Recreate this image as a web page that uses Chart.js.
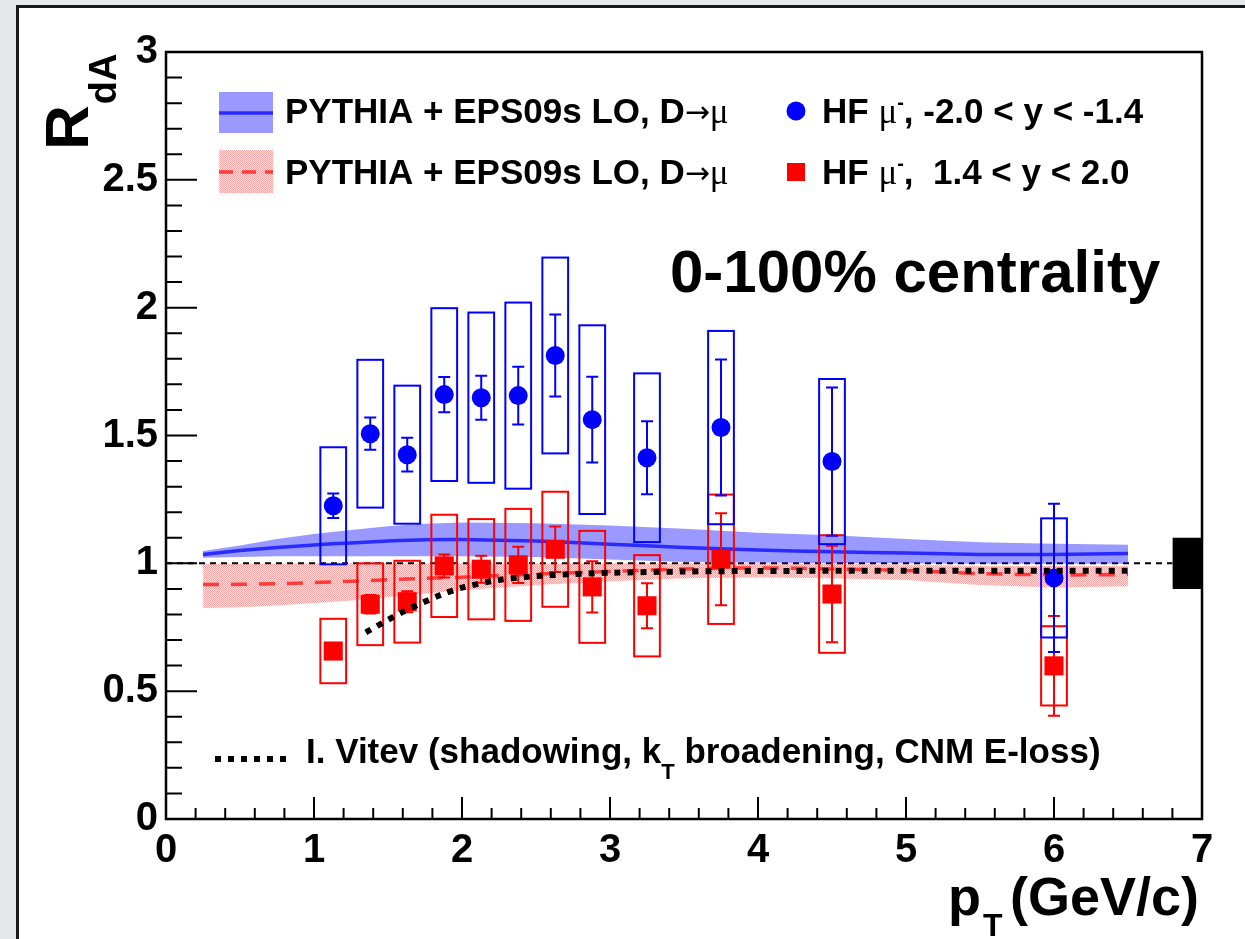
<!DOCTYPE html>
<html>
<head>
<meta charset="utf-8">
<script src="https://cdn.jsdelivr.net/npm/chart.js@4.4.0/dist/chart.umd.min.js"></script>
<style>
body { margin: 0; background: #e5e7ea; width: 1245px; height: 939px; overflow: hidden; position: relative; }
#panel { position: absolute; left: 16px; top: 5px; width: 1240px; height: 940px; background: #fff; border-left: 3px solid #1a1a1a; border-top: 3px solid #1a1a1a; }
#c { position: absolute; left: 0; top: 0; }
</style>
</head>
<body>
<div id="panel"></div>
<canvas id="c" width="1245" height="939"></canvas>
<script>
// measured points (pT in GeV/c)
const ptPoints = [1.13, 1.38, 1.63, 1.88, 2.13, 2.38, 2.63, 2.88, 3.25, 3.75, 4.5, 6.0];

// HF muons, -2.0 < y < -1.4 (blue)
const rdaBackward  = [1.225, 1.507, 1.425, 1.66, 1.648, 1.656, 1.813, 1.562, 1.413, 1.531, 1.398, 0.943];
const statBackward = [0.048, 0.063, 0.066, 0.069, 0.086, 0.113, 0.16, 0.168, 0.143, 0.266, 0.29, 0.29];
const sysBackward  = [0.229, 0.289, 0.27, 0.338, 0.333, 0.364, 0.383, 0.369, 0.33, 0.378, 0.323, 0.233];

// HF muons, 1.4 < y < 2.0 (red)
const rdaForward  = [0.657, 0.84, 0.85, 0.99, 0.977, 0.994, 1.055, 0.908, 0.834, 1.016, 0.88, 0.599];
const statForward = [0.02, 0.036, 0.041, 0.045, 0.053, 0.071, 0.089, 0.1, 0.088, 0.18, 0.189, 0.195];
const sysForward  = [0.126, 0.16, 0.16, 0.2, 0.196, 0.219, 0.225, 0.219, 0.198, 0.253, 0.23, 0.155];

// PYTHIA + EPS09s LO bands
const bandPt = [0.25, 0.5, 0.75, 1.0, 1.25, 1.5, 1.75, 2.0, 2.5, 3.0, 3.5, 4.0, 4.5, 5.0, 5.5, 6.0, 6.5];
const pythiaBackward     = [1.035, 1.05, 1.062, 1.072, 1.08, 1.087, 1.092, 1.093, 1.087, 1.075, 1.062, 1.052, 1.045, 1.04, 1.035, 1.035, 1.038];
const pythiaBackwardHigh = [1.048, 1.07, 1.095, 1.115, 1.13, 1.145, 1.155, 1.16, 1.157, 1.148, 1.135, 1.12, 1.11, 1.095, 1.082, 1.077, 1.073];
const pythiaBackwardLow  = [1.022, 1.025, 1.028, 1.028, 1.028, 1.028, 1.028, 1.028, 1.025, 1.015, 1.005, 1.003, 1.0, 1.0, 0.998, 0.998, 0.998];
const pythiaForward      = [0.917, 0.918, 0.92, 0.925, 0.93, 0.936, 0.941, 0.946, 0.958, 0.968, 0.978, 0.982, 0.978, 0.972, 0.96, 0.955, 0.956];
const pythiaForwardHigh  = [0.998, 0.998, 0.999, 1.0, 1.0, 1.0, 1.0, 1.0, 1.0, 1.0, 1.0, 1.0, 0.998, 0.995, 0.99, 0.99, 0.99];
const pythiaForwardLow   = [0.825, 0.828, 0.835, 0.845, 0.855, 0.868, 0.882, 0.895, 0.915, 0.93, 0.942, 0.945, 0.942, 0.935, 0.915, 0.905, 0.91];

// I. Vitev curve
const vitevPt  = [1.35, 1.6, 1.85, 2.0, 2.25, 2.5, 2.75, 3.0, 3.5, 4.0, 5.0, 6.5];
const vitevRda = [0.73, 0.81, 0.875, 0.905, 0.935, 0.95, 0.958, 0.963, 0.968, 0.97, 0.971, 0.971];

// unity line and normalisation uncertainty box
const unityPt  = [0, 6.8];
const unityRda = [1, 1];
const normPt   = [6.8, 7.0];
const normHigh = [1.1, 1.1];
const normLow  = [0.9, 0.9];

const pts = (xs, ys) => xs.map((x, i) => ({ x: x, y: ys[i] }));
const B = n => `bold ${n}px "Liberation Sans", Arial, sans-serif`;
const S = n => `${n}px "Liberation Serif", "DejaVu Serif", serif`;
const A = n => `${n}px "DejaVu Sans", sans-serif`;

const canvas = document.getElementById('c');
const ctx = canvas.getContext('2d');

function hatchPattern() {
    const c = document.createElement('canvas');
    c.width = 2; c.height = 2;
    const g = c.getContext('2d');
    g.fillStyle = 'rgba(255,0,0,0.07)';
    g.fillRect(1, 0, 1, 1); g.fillRect(0, 1, 1, 1);
    g.fillStyle = 'rgba(255,0,0,0.36)';
    g.fillRect(0, 0, 1, 1); g.fillRect(1, 1, 1, 1);
    return ctx.createPattern(c, 'repeat');
}
const hatch = hatchPattern();

function richText(c, x, y, parts) {
    parts.forEach(p => {
        c.font = p[1];
        c.fillText(p[0], x, y + (p[2] || 0));
        x += c.measureText(p[0]).width;
    });
    return x;
}

// systematic boxes + stat error bars, drawn just before the marker dataset
const errorBoxes = {
    id: 'errorBoxes',
    beforeDatasetDraw(chart, args) {
        const ds = chart.data.datasets[args.index];
        if (!ds.sysErr) return;
        const c = chart.ctx, x = chart.scales.x, y = chart.scales.y;
        c.save();
        c.strokeStyle = ds.backgroundColor;
        c.lineWidth = 2;
        ds.data.forEach((p, i) => {
            const xl = x.getPixelForValue(p.x - ds.boxHalf);
            const xr = x.getPixelForValue(p.x + ds.boxHalf);
            const yt = y.getPixelForValue(p.y + ds.sysErr[i]);
            const yb = y.getPixelForValue(p.y - ds.sysErr[i]);
            c.strokeRect(xl, yt, xr - xl, yb - yt);
            const xc = x.getPixelForValue(p.x);
            const et = y.getPixelForValue(p.y + ds.statErr[i]);
            const eb = y.getPixelForValue(p.y - ds.statErr[i]);
            c.beginPath();
            c.moveTo(xc, et); c.lineTo(xc, eb);
            c.moveTo(xc - 6, et); c.lineTo(xc + 6, et);
            c.moveTo(xc - 6, eb); c.lineTo(xc + 6, eb);
            c.stroke();
        });
        c.restore();
    }
};

// frame, inward ticks, legend and labels
const decorations = {
    id: 'decorations',
    afterDraw(chart) {
        const c = chart.ctx, a = chart.chartArea, x = chart.scales.x, y = chart.scales.y;
        c.save();
        c.strokeStyle = '#000';
        c.lineWidth = 2;
        c.beginPath();
        for (let i = 0; i <= 30; i++) {
            const py = y.getPixelForValue(i / 10);
            const len = i % 5 === 0 ? 31 : 16;
            c.moveTo(a.left, py); c.lineTo(a.left + len, py);
        }
        for (let i = 0; i <= 35; i++) {
            const px = x.getPixelForValue(i / 5);
            const len = i % 5 === 0 ? 22 : 11;
            c.moveTo(px, a.bottom); c.lineTo(px, a.bottom - len);
        }
        c.stroke();
        c.lineWidth = 2.5;
        c.strokeRect(a.left, a.top, a.right - a.left, a.bottom - a.top);

        c.textBaseline = 'alphabetic';

        // legend row 1
        c.fillStyle = 'rgba(0,0,255,0.4)';
        c.fillRect(219, 92, 54, 41);
        c.strokeStyle = '#2b2bff'; c.lineWidth = 3.5;
        c.beginPath(); c.moveTo(219, 113); c.lineTo(273, 113); c.stroke();
        // legend row 2
        c.fillStyle = hatch;
        c.fillRect(219, 150, 54, 43);
        c.strokeStyle = '#ff3a3a'; c.setLineDash([14, 9]);
        c.beginPath(); c.moveTo(219, 172); c.lineTo(273, 172); c.stroke();
        c.setLineDash([]);

        c.fillStyle = '#000';
        richText(c, 285, 123, [['PYTHIA + EPS09s LO, D', B(35)], ['\u2192', A(30), -1], ['\u03bc', S(35)]]);
        richText(c, 285, 184, [['PYTHIA + EPS09s LO, D', B(35)], ['\u2192', A(30), -1], ['\u03bc', S(35)]]);

        c.fillStyle = '#0000ff';
        c.beginPath(); c.arc(796, 111, 9.5, 0, Math.PI * 2); c.fill();
        c.fillStyle = '#ff0000';
        c.fillRect(787, 163, 18, 18);

        c.fillStyle = '#000';
        richText(c, 822, 123, [['HF ', B(35)], ['\u03bc', S(35)], ['-', B(20), -14], [', -2.0 < y < -1.4', B(35)]]);
        richText(c, 822, 184, [['HF ', B(35)], ['\u03bc', S(35)], ['-', B(20), -14], [',  1.4 < y < 2.0', B(35)]]);

        // centrality label
        c.font = B(60);
        c.fillText('0-100% centrality', 670, 292);

        // Vitev legend
        c.strokeStyle = '#000'; c.lineWidth = 6; c.setLineDash([6, 7]);
        c.beginPath(); c.moveTo(215, 759); c.lineTo(292, 759); c.stroke();
        c.setLineDash([]);
        richText(c, 306, 763, [['I. Vitev (shadowing, k', B(35)], ['T', B(22), 16], [' broadening, CNM E-loss)', B(35)]]);

        // axis titles
        c.font = B(54);
        c.fillText('p', 948, 915);
        c.font = B(32);
        c.fillText('T', 983, 936);
        c.font = B(54);
        c.fillText('(GeV/c)', 1010, 915);

        c.save();
        c.translate(88, 150);
        c.rotate(-Math.PI / 2);
        c.font = B(62);
        c.fillText('R', 0, 0);
        const wR = c.measureText('R').width;
        c.font = B(38);
        c.fillText('dA', wR + 1, 28);
        c.restore();

        c.restore();
    }
};

const tickFont = { family: '"Liberation Sans", Arial, sans-serif', size: 40, weight: 'bold' };

new Chart(ctx, {
    type: 'scatter',
    data: {
        datasets: [
            {
                type: 'line', data: pts(unityPt, unityRda), borderColor: '#000', borderWidth: 2,
                borderDash: [6, 5], pointRadius: 0, fill: false, order: 20
            },
            {
                type: 'line', data: pts(bandPt, pythiaForwardHigh), borderColor: 'transparent', borderWidth: 0,
                backgroundColor: hatch, pointRadius: 0, fill: 2, order: 18
            },
            {
                type: 'line', data: pts(bandPt, pythiaForwardLow), borderColor: 'transparent', borderWidth: 0,
                pointRadius: 0, fill: false, order: 18
            },
            {
                type: 'line', data: pts(bandPt, pythiaBackwardHigh), borderColor: 'transparent', borderWidth: 0,
                backgroundColor: 'rgba(0,0,255,0.4)', pointRadius: 0, fill: 4, order: 16
            },
            {
                type: 'line', data: pts(bandPt, pythiaBackwardLow), borderColor: 'transparent', borderWidth: 0,
                pointRadius: 0, fill: false, order: 16
            },
            {
                type: 'line', data: pts(bandPt, pythiaBackward), borderColor: '#2b2bff', borderWidth: 3.5,
                pointRadius: 0, fill: false, tension: 0.3, order: 14
            },
            {
                type: 'line', data: pts(bandPt, pythiaForward), borderColor: '#ff3a3a', borderWidth: 3.5,
                borderDash: [16, 12], pointRadius: 0, fill: false, tension: 0.3, order: 13
            },
            {
                type: 'line', data: pts(normPt, normHigh), borderColor: 'transparent', borderWidth: 0,
                backgroundColor: '#000', pointRadius: 0, fill: 8, order: 12
            },
            {
                type: 'line', data: pts(normPt, normLow), borderColor: 'transparent', borderWidth: 0,
                pointRadius: 0, fill: false, order: 12
            },
            {
                data: pts(ptPoints, rdaForward), backgroundColor: '#ff0000', borderWidth: 0,
                pointStyle: 'rect', pointRadius: 13.5, sysErr: sysForward, statErr: statForward, boxHalf: 0.087, order: 5
            },
            {
                data: pts(ptPoints, rdaBackward), backgroundColor: '#0000ff', borderWidth: 0,
                pointStyle: 'circle', pointRadius: 9.5, sysErr: sysBackward, statErr: statBackward, boxHalf: 0.087, order: 4
            },
            {
                type: 'line', data: pts(vitevPt, vitevRda), borderColor: '#000', borderWidth: 6,
                borderDash: [6, 7], pointRadius: 0, fill: false, tension: 0.3, order: 1
            }
        ]
    },
    options: {
        responsive: false,
        animation: false,
        devicePixelRatio: 1,
        layout: { padding: { left: 0, top: 52, right: 43, bottom: 0 } },
        plugins: { legend: { display: false }, tooltip: { enabled: false } },
        scales: {
            x: {
                type: 'linear', min: 0, max: 7,
                afterFit: s => { s.height = 120; },
                grid: { display: false, drawTicks: false },
                border: { display: false },
                ticks: { stepSize: 1, padding: 8, font: tickFont, color: '#000', maxRotation: 0, autoSkip: false }
            },
            y: {
                type: 'linear', min: 0, max: 3,
                afterFit: s => { s.width = 166; },
                grid: { display: false, drawTicks: false },
                border: { display: false },
                ticks: { stepSize: 0.5, padding: 8, font: tickFont, color: '#000', autoSkip: false,
                         callback: v => String(v) }
            }
        }
    },
    plugins: [errorBoxes, decorations]
});
</script>
</body>
</html>
